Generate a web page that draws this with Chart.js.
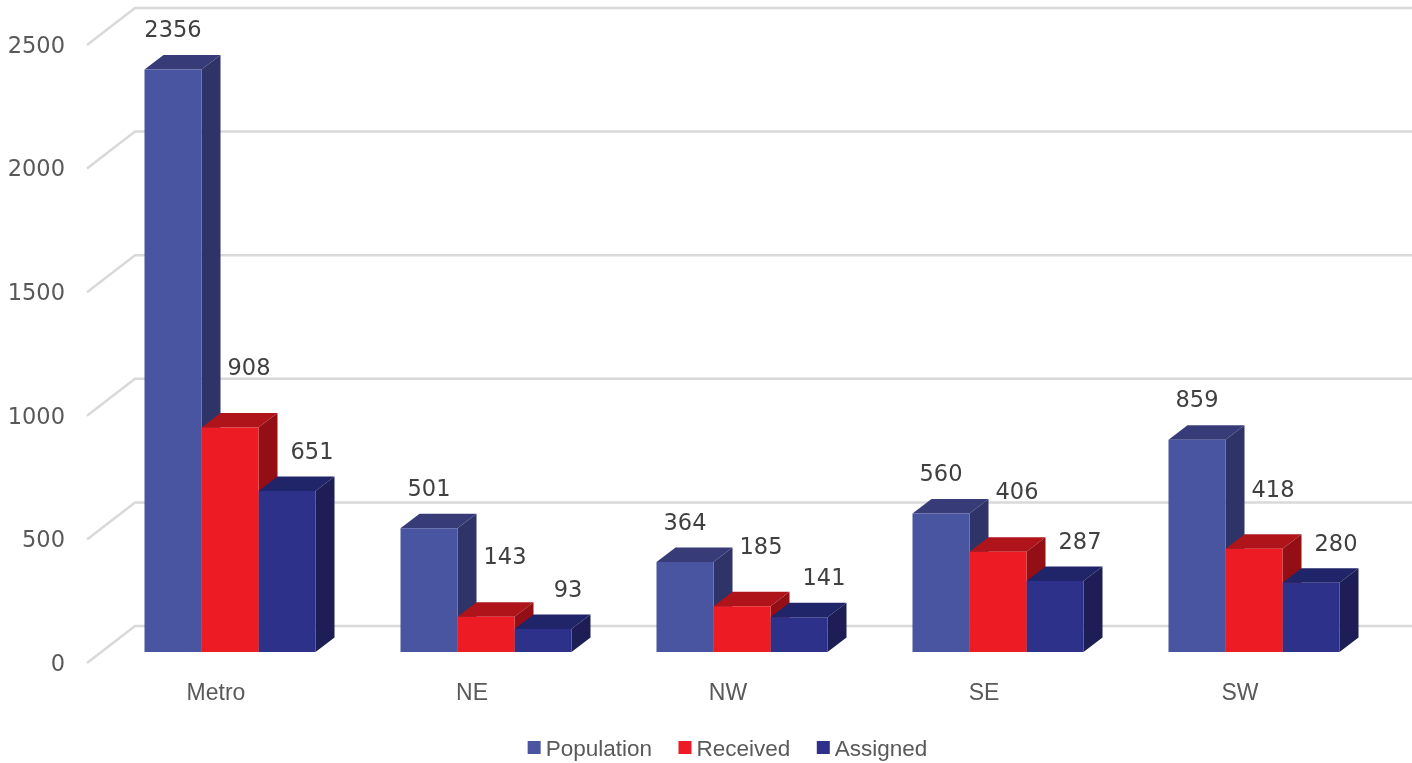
<!doctype html>
<html lang="en">
<head>
  <meta charset="utf-8">
  <title>Population, received and assigned by region</title>
  <script src="https://cdn.jsdelivr.net/npm/chart.js@4/dist/chart.umd.min.js"></script>
  <style>
    html, body { margin: 0; padding: 0; background: #fff; }
    canvas { display: block; }
  </style>
</head>
<body>
<canvas id="myChart" width="1412" height="763"></canvas>

<script>
var categories = ["Metro", "NE", "NW", "SE", "SW"];
var population = [2356, 501, 364, 560, 859];
var received = [908, 143, 185, 406, 418];
var assigned = [651, 93, 141, 287, 280];
var yTicks = [0, 500, 1000, 1500, 2000, 2500];

var fontName = '"Liberation Sans", Arial, sans-serif';
var numberFont = '"DejaVu Sans", sans-serif';

// front, side and top colour of each series
var colors = [
  { front: "#4a55a2", side: "#2e3468", top: "#373c78" },
  { front: "#ed1c24", side: "#930f15", top: "#ae141a" },
  { front: "#2e3189", side: "#1c1e55", top: "#202468" }
];

// how far the value label sits from the top of the bar, per series
var labelShift = [ { x: 0, y: -38 }, { x: 19, y: -58 }, { x: 25, y: -38 } ];

var depthX = 19, depthY = 14.5;  // bar depth
var wallX = 48, wallFront = 11, wallBack = -26;  // left wall and back wall

function poly(ctx, pts, color) {
  ctx.fillStyle = color;
  ctx.beginPath();
  ctx.moveTo(pts[0][0], pts[0][1]);
  for (var i = 1; i < pts.length; i++) ctx.lineTo(pts[i][0], pts[i][1]);
  ctx.closePath();
  ctx.fill();
}

var fake3d = {
  id: "fake3d",
  beforeDatasetsDraw: function (chart) {
    var ctx = chart.ctx, y = chart.scales.y;
    var xFront = 87, xBack = xFront + wallX;

    // walls: diagonal on the left, long line on the back
    ctx.save();
    ctx.strokeStyle = "#d9d9d9";
    ctx.lineWidth = 2.5;
    y.ticks.forEach(function (t) {
      var py = y.getPixelForValue(t.value);
      ctx.beginPath();
      ctx.moveTo(xFront, py + wallFront);
      ctx.lineTo(xBack, py + wallBack);
      ctx.lineTo(chart.width, py + wallBack);
      ctx.stroke();
    });

    // sides and tops go under the fronts, which chart.js draws after this
    chart.data.datasets.forEach(function (ds, i) {
      chart.getDatasetMeta(i).data.forEach(function (bar) {
        var l = bar.x - bar.width / 2, r = bar.x + bar.width / 2;
        var t = bar.y, b = bar.base;
        poly(ctx, [[l, t], [r, t], [r + depthX, t - depthY], [l + depthX, t - depthY]], colors[i].top);
        poly(ctx, [[r, t], [r + depthX, t - depthY], [r + depthX, b - depthY], [r, b]], colors[i].side);
      });
    });
    ctx.restore();
  },
  afterDatasetsDraw: function (chart) {
    var ctx = chart.ctx;
    ctx.save();
    ctx.font = "22.5px " + numberFont;
    ctx.fillStyle = "#404040";
    ctx.textAlign = "center";
    ctx.textBaseline = "middle";
    chart.data.datasets.forEach(function (ds, i) {
      chart.getDatasetMeta(i).data.forEach(function (bar, j) {
        ctx.fillText(ds.data[j], bar.x + labelShift[i].x, bar.y + labelShift[i].y);
      });
    });
    ctx.restore();

    // legend, the built-in one keeps too wide a gap after the box
    ctx.save();
    ctx.font = "22.5px " + fontName;
    ctx.textBaseline = "middle";
    var box = 13, gap = 5, between = 26.5, total = 0;
    chart.data.datasets.forEach(function (ds) {
      total += box + gap + ctx.measureText(ds.label).width + between;
    });
    var x = 727.5 - (total - between) / 2, ly = 748;
    chart.data.datasets.forEach(function (ds, i) {
      ctx.fillStyle = colors[i].front;
      ctx.fillRect(x, ly - 7, box, box);
      ctx.fillStyle = "#595959";
      ctx.fillText(ds.label, x + box + gap, ly + 1.5);
      x += box + gap + ctx.measureText(ds.label).width + between;
    });
    ctx.restore();
  }
};

var barOpts = { categoryPercentage: 171 / 256, barPercentage: 1, borderWidth: 0 };

var ctx = document.getElementById("myChart").getContext("2d");
var myChart = new Chart(ctx, {
  type: "bar",
  data: {
    labels: categories,
    datasets: [
      Object.assign({ label: "Population", data: population, backgroundColor: colors[0].front }, barOpts),
      Object.assign({ label: "Received", data: received, backgroundColor: colors[1].front }, barOpts),
      Object.assign({ label: "Assigned", data: assigned, backgroundColor: colors[2].front }, barOpts)
    ]
  },
  options: {
    responsive: false,
    animation: false,
    layout: { padding: { top: 34, right: 30, left: 0, bottom: 0 } },
    plugins: { legend: { display: false }, tooltip: { enabled: false } },
    scales: {
      x: {
        grid: { display: false, drawTicks: false },
        border: { display: false },
        ticks: {
          color: "#595959",
          font: { family: fontName, size: 23 },
          padding: 28,
          labelOffset: -14,
          maxRotation: 0,
          autoSkip: false
        },
        afterFit: function (scale) { scale.height = 111; }
      },
      y: {
        min: 0,
        max: 2500,
        grid: { display: false, drawTicks: false },
        border: { display: false },
        afterBuildTicks: function (scale) {
          scale.ticks = yTicks.map(function (v) { return { value: v }; });
        },
        ticks: {
          color: "#595959",
          font: { family: numberFont, size: 22.5 },
          padding: 37,
          labelOffset: 13,
          autoSkip: false,
          callback: function (v) { return String(v); }
        },
        afterFit: function (scale) {
          scale.width = 102;
          scale.paddingTop = 0;
          scale.paddingBottom = 0;
        }
      }
    }
  },
  plugins: [fake3d]
});
</script>
</body>
</html>
